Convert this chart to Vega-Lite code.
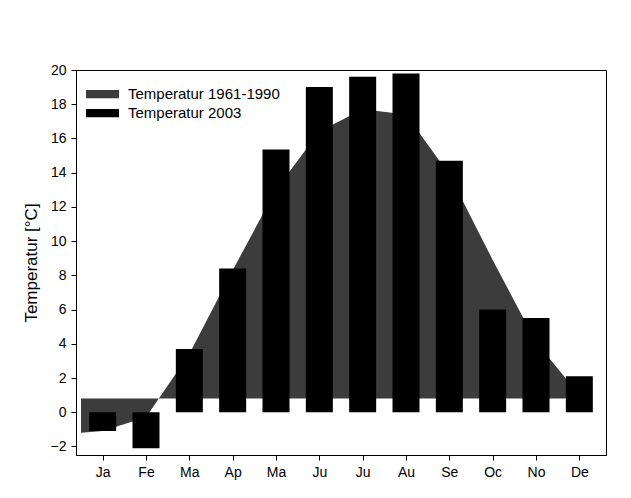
{
  "$schema": "https://vega.github.io/schema/vega-lite/v6.json",
  "width": 530,
  "height": 385,
  "autosize": "none",
  "padding": {"left": 76, "top": 70, "right": 25, "bottom": 43},
  "background": "white",
  "config": {
    "font": "Liberation Sans",
    "view": {"stroke": "black", "strokeWidth": 1},
    "axis": {
      "domainColor": "black",
      "tickColor": "black",
      "labelColor": "black",
      "titleColor": "black",
      "labelFontSize": 14,
      "tickSize": 5,
      "grid": false,
      "labelPadding": 4
    }
  },
  "datasets": {
    "normal": [
      {"month": 0.5, "temp": -1.2, "series": "Temperatur 1961-1990"},
      {"month": 1, "temp": -1.1, "series": "Temperatur 1961-1990"},
      {"month": 2, "temp": -0.3, "series": "Temperatur 1961-1990"},
      {"month": 3, "temp": 3.4, "series": "Temperatur 1961-1990"},
      {"month": 4, "temp": 8.3, "series": "Temperatur 1961-1990"},
      {"month": 5, "temp": 13.0, "series": "Temperatur 1961-1990"},
      {"month": 6, "temp": 16.4, "series": "Temperatur 1961-1990"},
      {"month": 7, "temp": 17.7, "series": "Temperatur 1961-1990"},
      {"month": 8, "temp": 17.4, "series": "Temperatur 1961-1990"},
      {"month": 9, "temp": 13.9, "series": "Temperatur 1961-1990"},
      {"month": 10, "temp": 8.9, "series": "Temperatur 1961-1990"},
      {"month": 11, "temp": 4.1, "series": "Temperatur 1961-1990"},
      {"month": 12, "temp": 1.0, "series": "Temperatur 1961-1990"}
    ],
    "y2003": [
      {"month": 1, "temp": -1.1, "series": "Temperatur 2003"},
      {"month": 2, "temp": -2.1, "series": "Temperatur 2003"},
      {"month": 3, "temp": 3.7, "series": "Temperatur 2003"},
      {"month": 4, "temp": 8.4, "series": "Temperatur 2003"},
      {"month": 5, "temp": 15.35, "series": "Temperatur 2003"},
      {"month": 6, "temp": 19.0, "series": "Temperatur 2003"},
      {"month": 7, "temp": 19.6, "series": "Temperatur 2003"},
      {"month": 8, "temp": 19.8, "series": "Temperatur 2003"},
      {"month": 9, "temp": 14.7, "series": "Temperatur 2003"},
      {"month": 10, "temp": 6.0, "series": "Temperatur 2003"},
      {"month": 11, "temp": 5.5, "series": "Temperatur 2003"},
      {"month": 12, "temp": 2.1, "series": "Temperatur 2003"}
    ]
  },
  "encoding": {
    "x": {
      "field": "month",
      "type": "quantitative",
      "scale": {"domain": [0.5, 12.5], "nice": false, "zero": false},
      "axis": {
        "title": null,
        "values": [1, 2, 3, 4, 5, 6, 7, 8, 9, 10, 11, 12],
        "labelExpr": "['Ja','Fe','Ma','Ap','Ma','Ju','Ju','Au','Se','Oc','No','De'][datum.value - 1]",
        "labelPadding": 5
      }
    },
    "y": {
      "field": "temp",
      "type": "quantitative",
      "scale": {"domain": [-2.5, 20], "nice": false, "zero": false},
      "axis": {
        "title": "Temperatur [°C]",
        "titleFontSize": 17,
        "titleFontWeight": "normal",
        "titlePadding": 10,
        "values": [-2, 0, 2, 4, 6, 8, 10, 12, 14, 16, 18, 20],
        "labelPadding": 5
      }
    },
    "color": {
      "field": "series",
      "type": "nominal",
      "scale": {"domain": ["Temperatur 1961-1990", "Temperatur 2003"], "range": ["#3c3c3c", "#000000"]},
      "legend": {
        "title": null,
        "orient": "none",
        "legendX": 10,
        "legendY": 17,
        "padding": 0,
        "labelFontSize": 15,
        "labelColor": "black",
        "symbolType": "M-1,-0.25H1V0.25H-1Z",
        "symbolSize": 1089,
        "symbolStrokeWidth": 0,
        "symbolOpacity": 1,
        "labelOffset": 9,
        "clipHeight": 14,
        "rowPadding": 4
      }
    }
  },
  "layer": [
    {
      "data": {"name": "normal"},
      "mark": {"type": "area", "opacity": 1},
      "encoding": {"y2": {"datum": 0.8}}
    },
    {
      "data": {"name": "y2003"},
      "mark": {"type": "bar", "size": 27, "opacity": 1},
      "encoding": {"y2": {"datum": 0}}
    }
  ]
}
